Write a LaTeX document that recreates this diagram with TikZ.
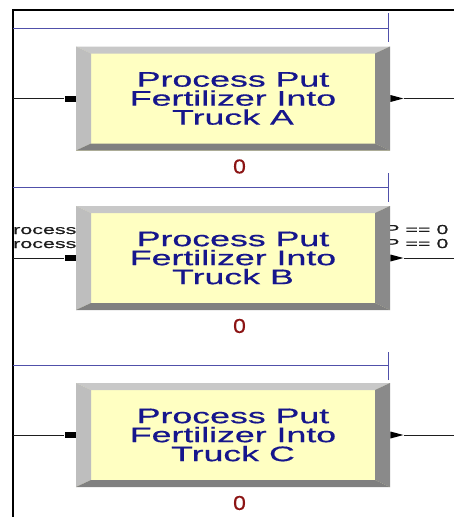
\documentclass[tikz,border=0pt]{standalone}
\usepackage{fontspec}
\setmainfont{Liberation Sans}
\newfontfamily\boxfont[FakeStretch=1.7, FakeBold=0.6]{Liberation Sans}
\newfontfamily\sidefont[FakeStretch=1.65, FakeBold=0.4]{Liberation Sans}
\newfontfamily\countfont[FakeStretch=1.15, FakeBold=0.4]{Liberation Sans}
\usetikzlibrary{positioning,calc,shapes.geometric}
\definecolor{procfill}{RGB}{255,255,194}
\definecolor{procblue}{RGB}{22,22,140}
\definecolor{bevtop}{RGB}{200,200,200}
\definecolor{bevleft}{RGB}{190,190,190}
\definecolor{bevright}{RGB}{138,138,138}
\definecolor{bevbottom}{RGB}{128,128,128}
\definecolor{countred}{RGB}{140,20,20}
\definecolor{queueblue}{RGB}{80,80,170}
\definecolor{ink}{RGB}{30,30,30}
\tikzset{
  proc/.style={minimum width=314pt, minimum height=104pt, inner sep=0pt, fill=procfill,
    align=center, text=procblue, font=\boxfont\fontsize{21}{19}\selectfont,
    path picture={
      \coordinate (nw) at (path picture bounding box.north west);
      \coordinate (ne) at (path picture bounding box.north east);
      \coordinate (se) at (path picture bounding box.south east);
      \coordinate (sw) at (path picture bounding box.south west);
      \fill[bevtop] (nw) -- (ne) -- ($(ne)+(-15pt,-7pt)$) -- ($(nw)+(15pt,-7pt)$) -- cycle;
      \fill[bevleft] (nw) -- ($(nw)+(15pt,-7pt)$) -- ($(sw)+(15pt,7pt)$) -- (sw) -- cycle;
      \fill[bevright] (ne) -- (se) -- ($(se)+(-15pt,7pt)$) -- ($(ne)+(-15pt,-7pt)$) -- cycle;
      \fill[bevbottom] (sw) -- (se) -- ($(se)+(-15pt,7pt)$) -- ($(sw)+(15pt,7pt)$) -- cycle;
    }},
  entry/.style={fill=black, inner sep=0pt, minimum width=11pt, minimum height=6pt},
  exit/.style={isosceles triangle, isosceles triangle stretches, fill=black, inner sep=0pt,
    minimum width=7pt, minimum height=13pt},
  count/.style={text=countred, inner sep=0pt, font=\countfont\fontsize{20}{20}\selectfont},
  side/.style={text=ink, inner sep=0pt, font=\sidefont\fontsize{13}{12}\selectfont},
  wire/.style={color=ink, line width=0.6pt},
  queue/.style={color=queueblue, line width=0.8pt},
  frame/.style={color=black, line width=1.3pt},
}

\begin{document}
\begin{tikzpicture}[x=1pt, y=-1pt]
  \fill[white] (0,0) rectangle (454,517);
  \useasboundingbox (0,0) rectangle (454,517);
  % window edge
  \draw[frame] (13,517) -- (13,10) -- (454,10);
  % queue lines over each process
  \draw[queue] (13,28) -- (388,28) (388,13) -- (388,42);
  \draw[queue] (13,187) -- (388,187) (388,173) -- (388,202);
  \draw[queue] (13,365) -- (388,365) (388,352) -- (388,380);
  % connector labels, half hidden behind box B
  \node[side, anchor=base west] (inlblB1) at (13,234) {rocess};
  \node[side, anchor=base west] (inlblB2) at (13,248) {rocess};
  \node[side, anchor=base west] (outlblB1) at (385,234) {P == 0};
  \node[side, anchor=base west] (outlblB2) at (385,248) {P == 0};
  % process modules
  \node[proc] (procA) at (233,98.5) {Process Put\\Fertilizer Into\\Truck A};
  \node[proc] (procB) at (233,258) {Process Put\\Fertilizer Into\\Truck B};
  \node[proc] (procC) at (233,435) {Process Put\\Fertilizer Into\\Truck C};
  \node[count, below=8.5pt of procA, xshift=6.5pt] (cntA) {0};
  \node[count, below=8.5pt of procB, xshift=6.5pt] (cntB) {0};
  \node[count, below=8.5pt of procC, xshift=6.5pt] (cntC) {0};
  % entry and exit points
  \node[entry, left=0pt of procA] (entA) {};
  \node[entry, left=0pt of procB] (entB) {};
  \node[entry, left=0pt of procC] (entC) {};
  \node[exit, anchor=lower side] (extA) at (procA.east) {};
  \node[exit, anchor=lower side] (extB) at (procB.east) {};
  \node[exit, anchor=lower side] (extC) at (procC.east) {};
  \coordinate (inA) at (13,98.5);  \coordinate (outA) at (454,98.5);
  \coordinate (inB) at (13,258);   \coordinate (outB) at (454,258);
  \coordinate (inC) at (13,435);   \coordinate (outC) at (454,435);
  \draw[wire] (inA) -- (entA); \draw[wire] (extA.apex) -- (outA);
  \draw[wire] (inB) -- (entB); \draw[wire] (extB.apex) -- (outB);
  \draw[wire] (inC) -- (entC); \draw[wire] (extC.apex) -- (outC);
\end{tikzpicture}
\end{document}
